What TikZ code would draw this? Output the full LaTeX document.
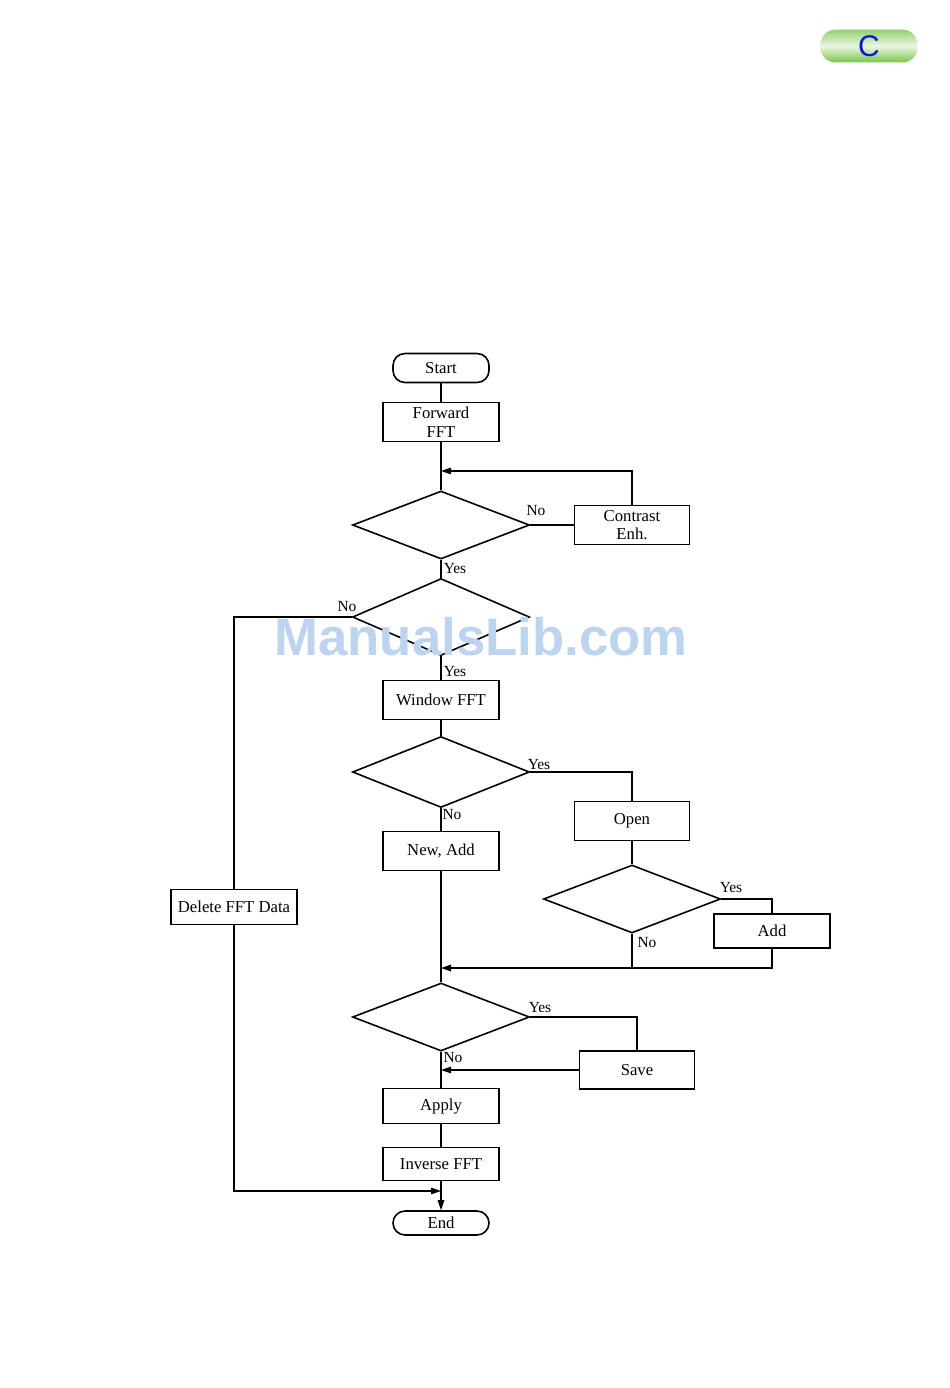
\documentclass[tikz,border=0pt]{standalone}
\usepackage{fontspec}
\setmainfont{Liberation Serif}
\newfontfamily\wmfont{Liberation Sans}
\usetikzlibrary{positioning,arrows.meta,shapes.geometric,calc}
\definecolor{tabgreen}{RGB}{120,196,70}
\definecolor{tabblue}{RGB}{10,20,220}
\definecolor{wmblue}{RGB}{188,212,240}

\begin{document}
\begin{tikzpicture}[
    x=0.2mm, y=-0.2mm,
    block/.style={draw, rectangle, line width=0.9pt, minimum width=2.32cm, minimum height=0.78cm, align=center, inner sep=1pt, font=\fontsize{9.5}{10.5}\selectfont},
    term/.style={block, rounded corners=2.4mm, minimum width=1.92cm, minimum height=0.58cm},
    decision/.style={draw, diamond, line width=0.9pt, minimum width=3.54cm, minimum height=1.36cm, inner sep=0pt},
    lbl/.style={inner sep=0.5pt, font=\fontsize{8.8}{10}\selectfont},
    link/.style={line width=0.6pt},
    arrow/.style={link, -{Triangle[length=2mm, width=1.3mm]}}
]
\useasboundingbox (0,0) rectangle (950,1388);

% --- Page tab ---
\node[shade, top color=tabgreen!80, bottom color=tabgreen, middle color=white!85!tabgreen, rounded corners=3mm, minimum width=1.94cm, minimum height=0.64cm, font=\wmfont\fontsize{17}{17}\selectfont, text=tabblue] (tab) at (869,46) {C};

% --- Main column ---
\node[term] (start) at (441,368) {Start};
\node[block] (fwd) at (441,422) {Forward\\FFT};
\node[decision] (d1) at (441,525) {};
\node[decision, minimum height=1.54cm] (d2) at (441,617) {};
\node[block] (window) at (441,700) {Window FFT};
\node[decision, minimum height=1.42cm] (d3) at (441,772) {};
\node[block] (newadd) at (441,851) {New, Add};
\node[decision, minimum height=1.36cm] (d5) at (441,1017) {};
\node[block, minimum height=0.7cm] (apply) at (441,1106) {Apply};
\node[block, minimum height=0.66cm] (inverse) at (441,1164) {Inverse FFT};
\node[term, minimum height=0.48cm] (finish) at (441,1223) {End};

% --- Side branches ---
\node[block, minimum width=2.3cm] (contrast) at (632,525) {Contrast\\Enh.};
\node[block, minimum width=2.52cm, minimum height=0.7cm] (delete) at (234,907) {Delete FFT Data};
\node[block, minimum width=2.3cm] (open) at (632,821) {Open};
\node[decision] (d4) at (632,899) {};
\node[block, minimum height=0.68cm] (add) at (772,931) {Add};
\node[block, minimum width=2.3cm, minimum height=0.76cm] (save) at (637,1070) {Save};

% --- Merge points ---
\coordinate (m1) at (441,471);
\coordinate (m2) at (441,968);
\coordinate (m3) at (441,1070);
\coordinate (m4) at (441,1191);

% --- Yes / No labels ---
\node[lbl] (no1) at (536,511) {No};
\node[lbl] (yes1) at (455,569) {Yes};
\node[lbl] (no2) at (347,606) {No};
\node[lbl] (yes2) at (455,671) {Yes};
\node[lbl] (yes3) at (539,764) {Yes};
\node[lbl] (no3) at (452,814) {No};
\node[lbl] (yes4) at (731,887) {Yes};
\node[lbl] (no4) at (647,942) {No};
\node[lbl] (yes5) at (540,1007) {Yes};
\node[lbl] (no5) at (453,1057) {No};

% --- Connections: main column ---
\draw[link] (start) -- (fwd);
\draw[link] (fwd) -- (d1);
\draw[link] (d1) -- (d2);
\draw[link] (d2) -- (window);
\draw[link] (window) -- (d3);
\draw[link] (d3) -- (newadd);
\draw[link] (newadd) -- (d5);
\draw[link] (d5) -- (apply);
\draw[link] (apply) -- (inverse);
\draw[arrow] (inverse) -- (finish);

% --- Connections: branches ---
\draw[link] (d1.east) -- (contrast.west);
\draw[arrow] (contrast.north) |- (m1);
\draw[link] (d2.west) -| (delete.north);
\draw[arrow] (delete.south) |- (m4);
\draw[link] (d3.east) -| (open.north);
\draw[link] (open) -- (d4);
\draw[link] (d4.east) -| (add.north);
\draw[link] (d4.south) -- (d4.south |- m2);
\draw[arrow] (add.south) |- (m2);
\draw[link] (d5.east) -| (save.north);
\draw[arrow] (save.west) -- (m3);

% --- Watermark ---
\node[text=wmblue, inner sep=0pt, text depth=0pt, font=\wmfont\bfseries\fontsize{30}{30}\selectfont] (wm) at (481,636) {ManualsLib.com};

\end{tikzpicture}
\end{document}
